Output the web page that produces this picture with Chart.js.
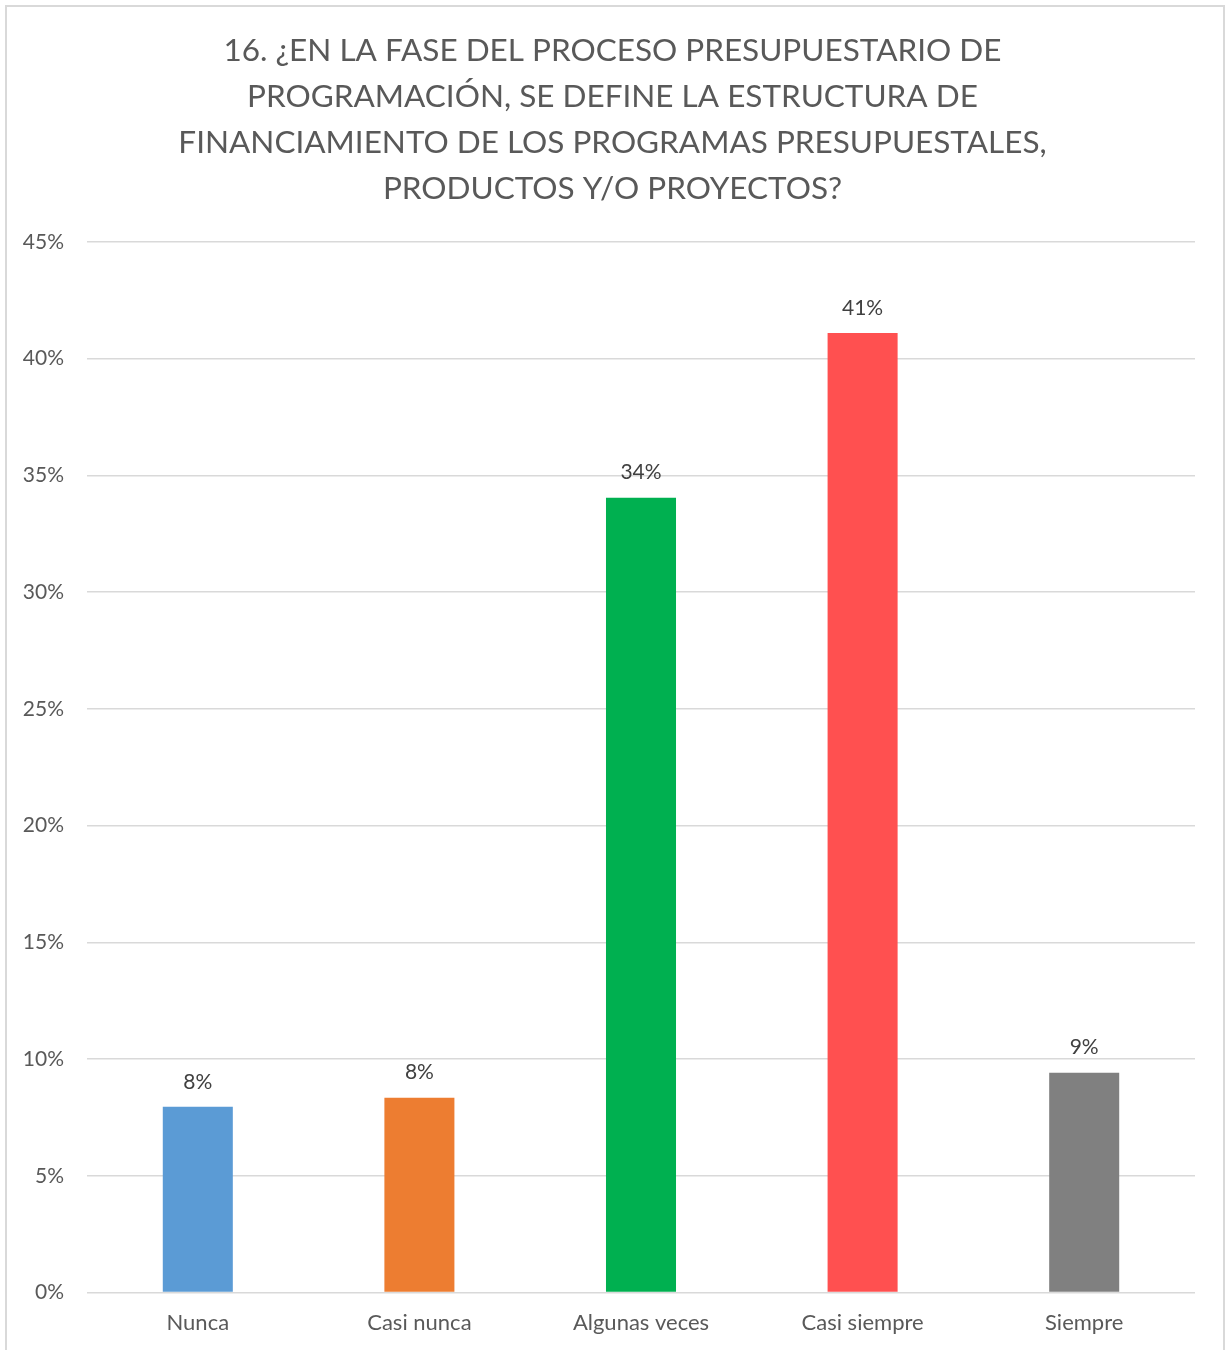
<!DOCTYPE html>
<html lang="es">
<head>
<meta charset="utf-8">
<title>Estructura de financiamiento</title>
<script src="https://cdn.jsdelivr.net/npm/chart.js@4/dist/chart.umd.min.js"></script>
<style>
  html, body { margin: 0; padding: 0; background: #fff; }
  #frame {
    position: absolute; left: 5px; top: 5px;
    width: 1216px; height: 1400px;
    border: 2px solid #d9d9d9;
    pointer-events: none;
  }
  #wrap { position: absolute; left: 0; top: 0; width: 1225px; height: 1350px; }
</style>
</head>
<body>
<div id="wrap"><canvas id="chart"></canvas></div>
<div id="frame"></div>
<script>
/* Bar chart: financing structure defined during programming phase */

const titleLines = [
  "16. ¿EN LA FASE DEL PROCESO PRESUPUESTARIO DE",
  "PROGRAMACIÓN, SE DEFINE LA ESTRUCTURA DE",
  "FINANCIAMIENTO DE LOS PROGRAMAS PRESUPUESTALES,",
  "PRODUCTOS Y/O PROYECTOS?",
];
const categories = ["Nunca", "Casi nunca", "Algunas veces", "Casi siempre", "Siempre"];
const shares = [7.96, 8.35, 34.05, 41.1, 9.42];
const barColors = ["#5B9BD5", "#ED7D31", "#00B050", "#FF5050", "#808080"];

const FONT = "Lato, 'Open Sans', sans-serif";

// value labels above each bar
const barLabels = {
  id: "barLabels",
  afterDatasetsDraw(chart) {
    const ctx = chart.ctx;
    const meta = chart.getDatasetMeta(0);
    ctx.save();
    ctx.font = `21px ${FONT}`;
    ctx.fillStyle = "#404040";
    ctx.textAlign = "center";
    ctx.textBaseline = "middle";
    meta.data.forEach((bar, i) => {
      ctx.fillText(`${Math.round(shares[i])}%`, bar.x, bar.y - 25);
    });
    ctx.restore();
  },
};

document.addEventListener("DOMContentLoaded", () => {
  const ctx = document.getElementById("chart").getContext("2d");

  new Chart(ctx, {
    type: "bar",
    data: {
      labels: categories,
      datasets: [
        {
          data: shares,
          backgroundColor: barColors,
          categoryPercentage: 1,
          barPercentage: 0.316,
        },
      ],
    },
    options: {
      responsive: true,
      maintainAspectRatio: false,
      animation: false,
      layout: { padding: { left: 0, right: 0, top: 24, bottom: 5 } },
      plugins: {
        legend: { display: false },
        tooltip: { enabled: false },
        title: {
          display: true,
          text: titleLines,
          color: "#595959",
          font: { family: FONT, size: 31.5, weight: "normal", lineHeight: "46px" },
          padding: { top: 4, bottom: 30 },
        },
      },
      scales: {
        x: {
          grid: { display: false },
          border: { display: false },
          ticks: { color: "#595959", font: { family: FONT, size: 22 }, padding: 9 },
        },
        y: {
          min: 0,
          max: 45,
          afterFit(scale) { scale.width = 87; },
          grid: { color: "#d9d9d9", lineWidth: 1.5, drawTicks: false },
          border: { display: false },
          ticks: {
            stepSize: 5,
            color: "#595959",
            font: { family: FONT, size: 21 },
            padding: 23,
            callback: (v) => `${v}%`,
          },
        },
        // empty right-hand margin so the title stays centred on the canvas
        yRight: {
          position: "right",
          afterFit(scale) { scale.width = 30; },
          grid: { display: false },
          border: { display: false },
          ticks: { display: false },
        },
      },
    },
    plugins: [barLabels],
  });
});
</script>
</body>
</html>
